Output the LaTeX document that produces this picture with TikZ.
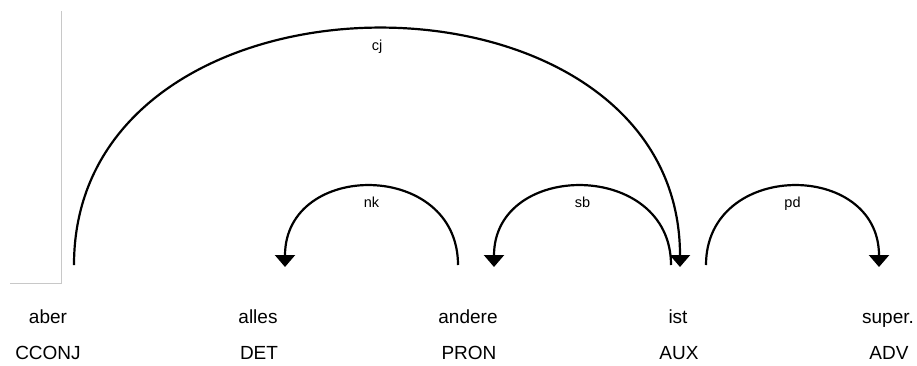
\documentclass[tikz,border=0pt]{standalone}
\usepackage{fontspec}
\setmainfont{Liberation Sans}
\usetikzlibrary{arrows.meta}
\begin{document}
\begin{tikzpicture}[x=1pt,y=-1pt,
  word/.style={anchor=base,font=\fontsize{19}{19}\selectfont,inner sep=0pt},
  lab/.style={anchor=base,font=\fontsize{14.5}{14.5}\selectfont,inner sep=0pt},
  arcline/.style={line width=2.2pt},
  arrowed/.style={arcline,-{Triangle[length=12pt,width=20pt]}}]
\useasboundingbox (0,0) rectangle (917,365);
% stray frame line
\draw[color={rgb,255:red,200;green,200;blue,200},line width=1pt] (10,283) -- (61,283) -- (61,11);
% words
\node[word] (w0) at (48,323) {aber};
\node[word] (w1) at (258,323) {alles};
\node[word] (w2) at (468,323) {andere};
\node[word] (w3) at (678,323) {ist};
\node[word] (w4) at (888,323) {super.};
% tags
\node[word] (t0) at (48,359.5) {CCONJ};
\node[word] (t1) at (259,359.5) {DET};
\node[word] (t2) at (469,359.5) {PRON};
\node[word] (t3) at (679,359.5) {AUX};
\node[word] (t4) at (889,359.5) {ADV};
% arc endpoints
\coordinate (cjS) at (74,265);  \coordinate (cjE) at (680,267);
\coordinate (nkS) at (458,265); \coordinate (nkE) at (285,267);
\coordinate (sbS) at (671,265); \coordinate (sbE) at (494,267);
\coordinate (pdS) at (706,265); \coordinate (pdE) at (879,267);
% arcs
\draw[arrowed] (cjS) .. controls (74,-50) and (680,-50) .. (cjE);
\draw[arrowed] (nkS) .. controls (458,160) and (285,160) .. (nkE);
\draw[arrowed] (sbS) .. controls (671,160) and (494,160) .. (sbE);
\draw[arrowed] (pdS) .. controls (706,160) and (879,160) .. (pdE);
% labels
\node[lab] (lcj) at (377,50) {cj};
\node[lab] (lnk) at (371.5,207) {nk};
\node[lab] (lsb) at (582.5,207) {sb};
\node[lab] (lpd) at (792.5,207) {pd};
\end{tikzpicture}
\end{document}
